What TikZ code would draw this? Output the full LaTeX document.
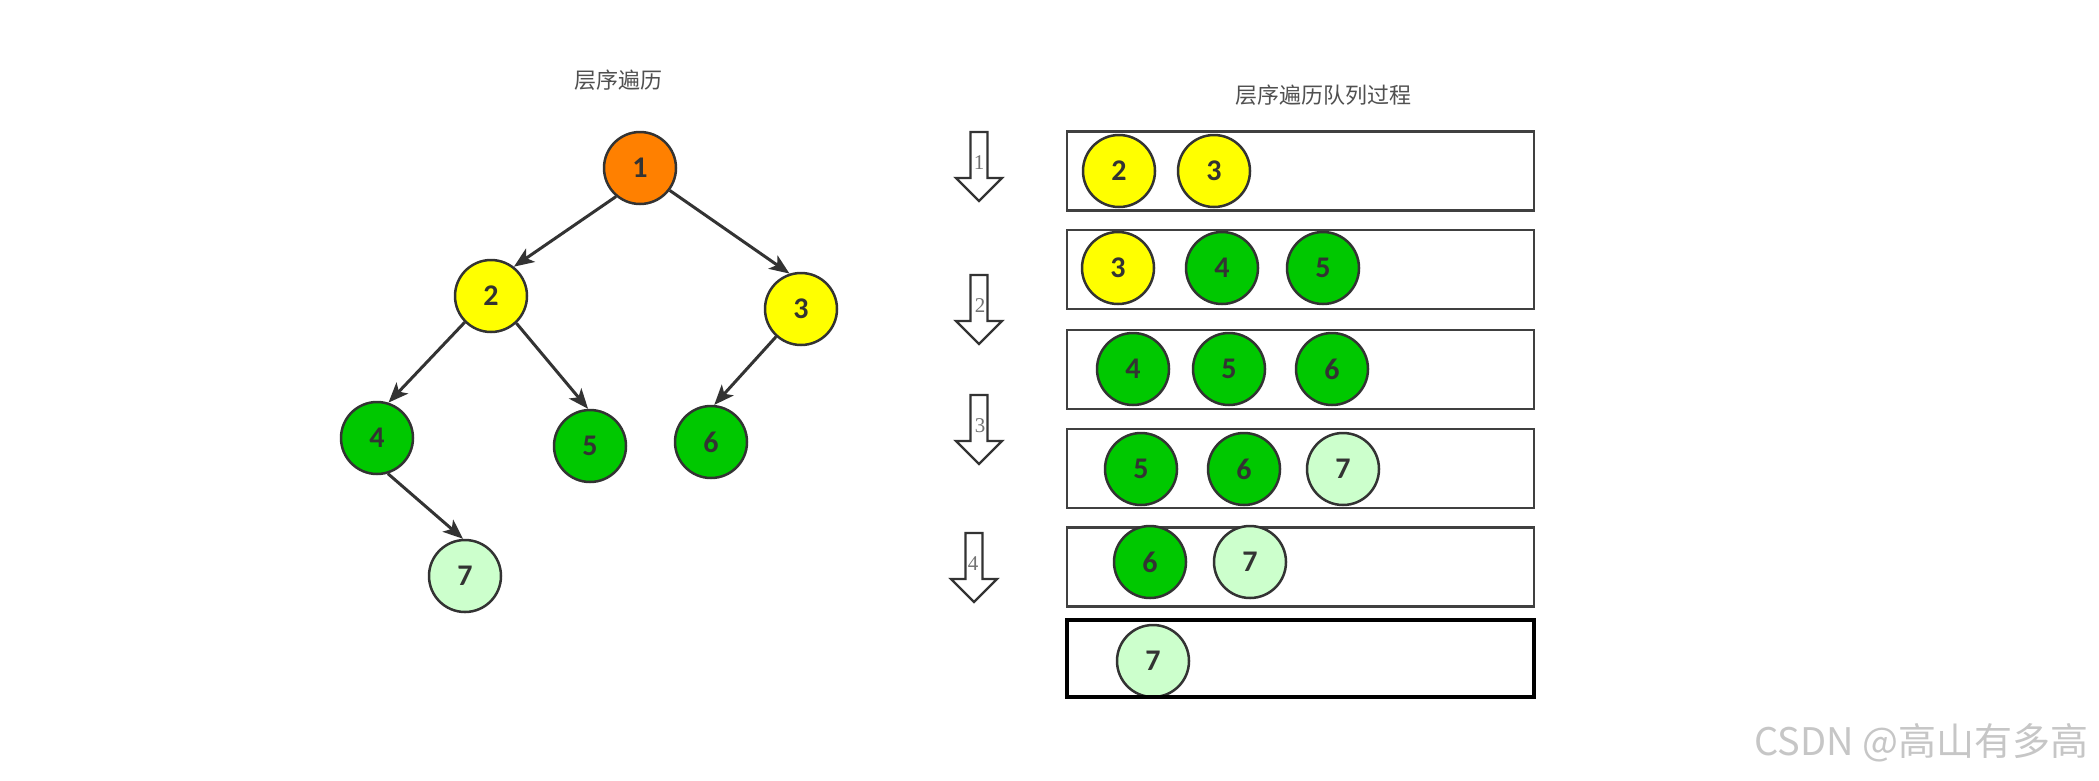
\documentclass[tikz,border=0pt]{standalone}
\usepackage{fontspec}
\setmainfont{Carlito}
\newfontfamily\cjkf{Noto Sans CJK SC}
\newfontfamily\numf{Carlito}
\newfontfamily\lblf{Liberation Serif}
\usetikzlibrary{arrows.meta}
\definecolor{orangeN}{HTML}{FF8000}
\definecolor{yellowN}{HTML}{FFFF00}
\definecolor{greenN}{HTML}{00C800}
\definecolor{lightN}{HTML}{CCFFCC}
\definecolor{lineC}{HTML}{333333}
\definecolor{titleC}{HTML}{505050}
\definecolor{boxC}{HTML}{404040}
\tikzset{
  nd/.style={circle, draw=lineC, line width=2.5pt, minimum size=72pt, inner sep=0pt,
             text=lineC, font=\numf\bfseries\fontsize{30}{32}\selectfont},
  edge/.style={draw=lineC, line width=3pt, -{Stealth[length=20pt,width=16pt,inset=5pt]}},
  qbox/.style={draw=boxC, line width=2.5pt, minimum width=467pt, minimum height=79pt, inner sep=0pt},
  lastbox/.style={draw=black, line width=4pt, minimum width=467pt, minimum height=77pt, inner sep=0pt},
  downarrow/.style={draw=lineC, line width=2.4pt, fill=white, line join=miter},
  arrlbl/.style={text=gray!90!black, font=\lblf\fontsize{21}{23}\selectfont, inner sep=0pt},
  title/.style={text=titleC, font=\cjkf\fontsize{22}{24}\selectfont}
}
\begin{document}
\begin{tikzpicture}[x=1pt,y=-1pt]
\useasboundingbox[fill=white] (0,0) rectangle (2099,780);

% titles
\node[title] (title1) at (618,80) {层序遍历};
\node[title] (title2) at (1323,95) {层序遍历队列过程};

% tree
\node[nd, fill=orangeN] (t1) at (640,168) {1};
\node[nd, fill=yellowN] (t2) at (491,296) {2};
\node[nd, fill=yellowN] (t3) at (801,309) {3};
\node[nd, fill=greenN]  (t4) at (377,438) {4};
\node[nd, fill=greenN]  (t5) at (590,446) {5};
\node[nd, fill=greenN]  (t6) at (711,442) {6};
\node[nd, fill=lightN]  (t7) at (465,576) {7};
\draw[edge] (t1.-130) -- (t2.52);
\draw[edge] (t1.-37) -- (t3.108);
\draw[edge] (t2.-135) -- (t4.72);
\draw[edge] (t2.-47) -- (t5.93);
\draw[edge] (t3.-132) -- (t6.85);
\draw[edge] (t4.-73) -- (t7.93);

% queue boxes
\node[qbox] (b1) at (1300.5,171) {};
\node[qbox] (b2) at (1300.5,269.5) {};
\node[qbox] (b3) at (1300.5,369.5) {};
\node[qbox] (b4) at (1300.5,468.5) {};
\node[qbox] (b5) at (1300.5,567) {};

% queue circles
\node[nd, fill=yellowN] (q1a) at (1119,171) {2};
\node[nd, fill=yellowN] (q1b) at (1214,171) {3};
\node[nd, fill=yellowN] (q2a) at (1118,268) {3};
\node[nd, fill=greenN]  (q2b) at (1222,268) {4};
\node[nd, fill=greenN]  (q2c) at (1323,268) {5};
\node[nd, fill=greenN]  (q3a) at (1133,369) {4};
\node[nd, fill=greenN]  (q3b) at (1229,369) {5};
\node[nd, fill=greenN]  (q3c) at (1332,369) {6};
\node[nd, fill=greenN]  (q4a) at (1141,469) {5};
\node[nd, fill=greenN]  (q4b) at (1244,469) {6};
\node[nd, fill=lightN]  (q4c) at (1343,469) {7};
\node[nd, fill=greenN]  (q5a) at (1150,562) {6};
\node[nd, fill=lightN]  (q5b) at (1250,562) {7};
\begin{scope}
  \clip (1067,619) rectangle (1534,697);
  \node[nd, fill=lightN] (q6a) at (1153,661) {7};
\end{scope}
\node[lastbox] (b6) at (1300.5,658.5) {};

% step arrows
\foreach \cx/\ty/\lab/\lx in {979/132/1/979, 979/275/2/980, 979/395/3/980, 974/533/4/973}{
  \draw[downarrow] (\cx-8.5,\ty) -- (\cx+8.5,\ty) -- (\cx+8.5,\ty+46) -- (\cx+23,\ty+46)
     -- (\cx,\ty+69) -- (\cx-23,\ty+46) -- (\cx-8.5,\ty+46) -- cycle;
  \node[arrlbl] at (\lx,\ty+31) {\lab};
}

% watermark
\node[anchor=east, text=gray!45, font=\cjkf\fontsize{38}{40}\selectfont] (wm) at (2092,743) {CSDN @高山有多高};
\end{tikzpicture}
\end{document}
